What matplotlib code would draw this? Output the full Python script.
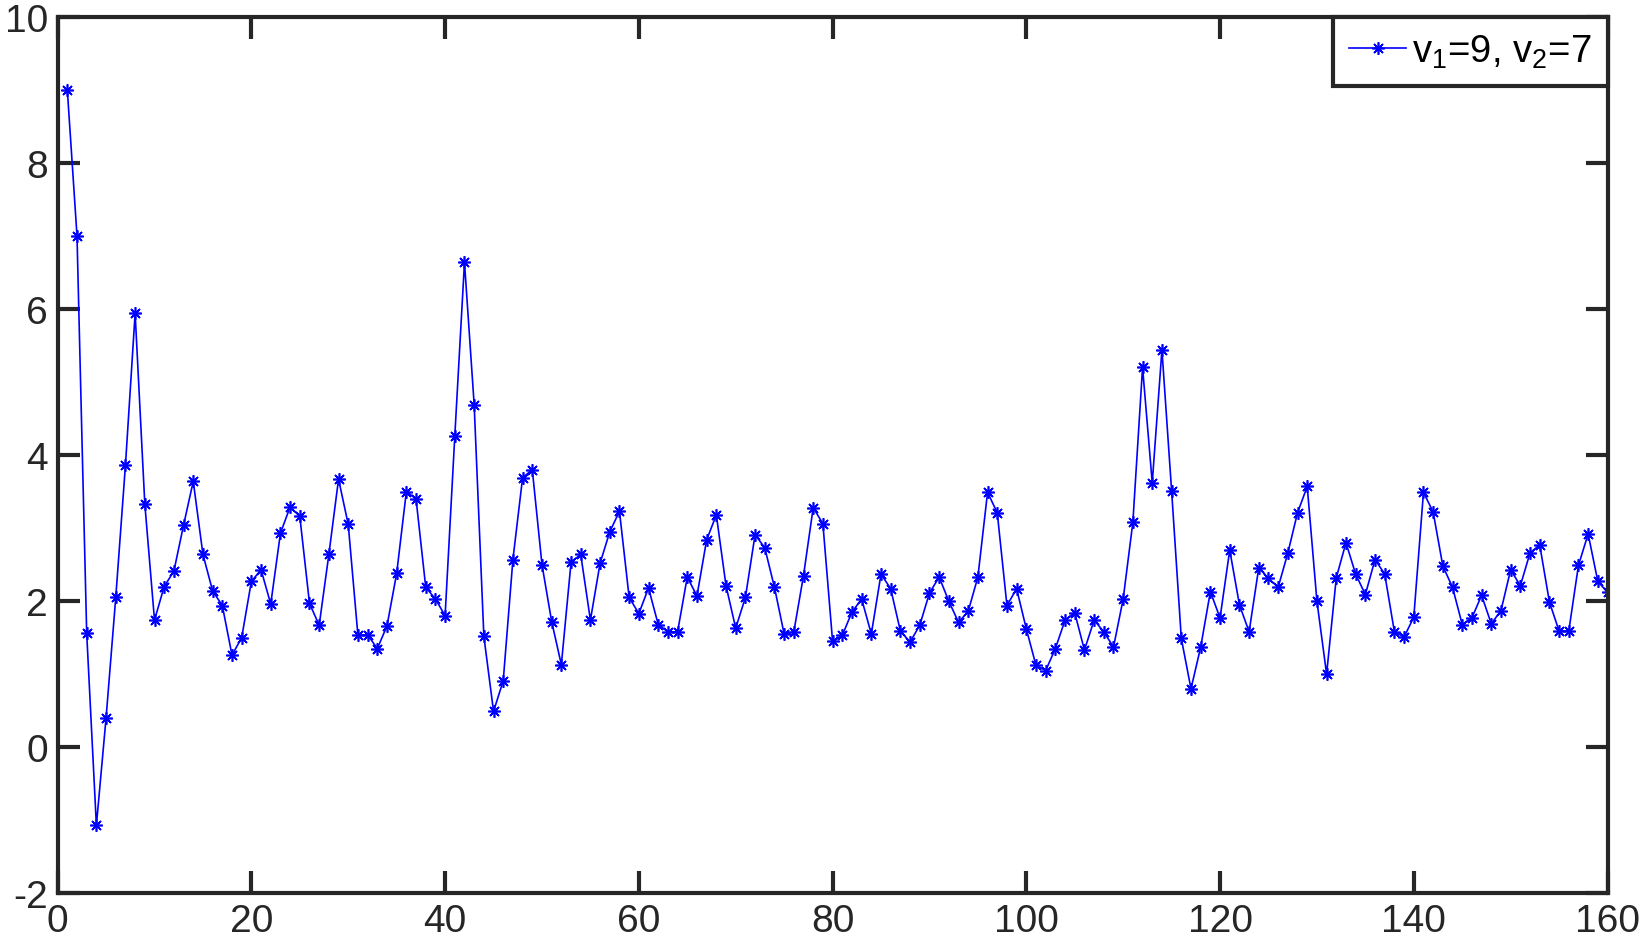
import numpy as np
import matplotlib
matplotlib.use("Agg")
import matplotlib.pyplot as plt

plt.rcParams["font.family"] = ["Liberation Sans", "DejaVu Sans"]
plt.rcParams["mathtext.fontset"] = "custom"
plt.rcParams["mathtext.rm"] = "Liberation Sans"
plt.rcParams["mathtext.it"] = "Liberation Sans"
plt.rcParams["mathtext.default"] = "regular"
plt.rcParams["axes.unicode_minus"] = False

# series values, one per step 1..160
values = [
    9.00, 7.00, 1.56, -1.07, 0.40, 2.05, 3.86, 5.94, 3.33, 1.74,
    2.20, 2.41, 3.04, 3.64, 2.64, 2.14, 1.94, 1.26, 1.50, 2.27,
    2.43, 1.96, 2.93, 3.29, 3.16, 1.97, 1.67, 2.64, 3.67, 3.05,
    1.53, 1.54, 1.35, 1.66, 2.38, 3.50, 3.40, 2.19, 2.03, 1.80,
    4.26, 6.64, 4.69, 1.52, 0.49, 0.91, 2.57, 3.69, 3.80, 2.50,
    1.72, 1.13, 2.53, 2.64, 1.74, 2.52, 2.95, 3.23, 2.05, 1.83,
    2.18, 1.68, 1.58, 1.58, 2.33, 2.07, 2.84, 3.18, 2.21, 1.63,
    2.05, 2.91, 2.73, 2.19, 1.55, 1.58, 2.35, 3.28, 3.06, 1.45,
    1.53, 1.85, 2.03, 1.55, 2.37, 2.17, 1.59, 1.44, 1.67, 2.11,
    2.33, 2.00, 1.71, 1.86, 2.33, 3.49, 3.21, 1.94, 2.17, 1.62,
    1.12, 1.05, 1.35, 1.74, 1.84, 1.33, 1.74, 1.58, 1.37, 2.03,
    3.08, 5.20, 3.62, 5.44, 3.51, 1.49, 0.80, 1.37, 2.13, 1.77,
    2.70, 1.95, 1.58, 2.46, 2.31, 2.19, 2.66, 3.21, 3.57, 2.00,
    1.00, 2.32, 2.80, 2.37, 2.09, 2.57, 2.37, 1.58, 1.51, 1.78,
    3.49, 3.22, 2.48, 2.19, 1.68, 1.77, 2.08, 1.69, 1.87, 2.43,
    2.21, 2.66, 2.77, 1.99, 1.59, 1.59, 2.49, 2.92, 2.27, 2.12,
]
steps = np.arange(1, len(values) + 1)
label = r"v$_{\mathregular{1}}$=9, v$_{\mathregular{2}}$=7"
x_ticks = [0, 20, 40, 60, 80, 100, 120, 140, 160]
y_ticks = [-2, 0, 2, 4, 6, 8, 10]

axis_color = "#262626"

fig = plt.figure(figsize=(16.42, 9.53), dpi=100)
ax = fig.add_axes([0.0351, 0.0616, 0.9439, 0.9197])

ax.plot(steps, values, color="blue", linewidth=1.2,
        marker=(8, 2, 0), markersize=9, markeredgewidth=1.2, label=label)

ax.set_xlim(0, 160)
ax.set_ylim(-2, 10)
ax.set_xticks(x_ticks)
ax.set_yticks(y_ticks)
ax.tick_params(direction="in", length=16, width=3, color=axis_color,
               labelcolor=axis_color, labelsize=28, top=True, right=True,
               pad=7)
for s in ax.spines.values():
    s.set_linewidth(3)
    s.set_color(axis_color)

leg = ax.legend(loc="upper right", fontsize=27.5, borderaxespad=0,
                fancybox=False, framealpha=1, handlelength=1.5,
                handletextpad=0.15, borderpad=0.42)
leg.get_frame().set_edgecolor(axis_color)
leg.get_frame().set_linewidth(3)

fig.savefig("out.png", dpi=100)
